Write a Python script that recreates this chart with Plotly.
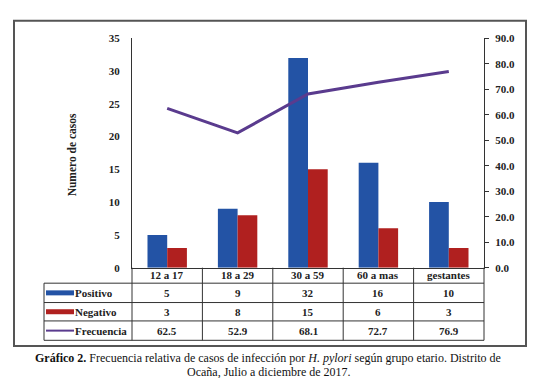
import plotly.graph_objects as go

categories = ["12 a 17", "18 a 29", "30 a 59", "60 a mas", "gestantes"]
positivo = [5, 9, 32, 16, 10]
negativo = [3, 8, 15, 6, 3]
frecuencia = [62.5, 52.9, 68.1, 72.7, 76.9]
left_ticks = [0, 5, 10, 15, 20, 25, 30, 35]
right_ticks = [0, 10, 20, 30, 40, 50, 60, 70, 80, 90]

W, H = 540, 378
def X(px): return px / W
def Y(py): return 1 - py / H

BLUE = "#2353a5"
RED = "#b0201f"
PURPLE = "#5a3b8e"
SERIF = "Liberation Serif"

x_left, x_right = 124, 476
y_top, y_bot = 25, 262

fig = go.Figure()
fig.add_trace(go.Bar(x=categories, y=positivo, name="Positivo", marker_color=BLUE, marker_line_width=0))
fig.add_trace(go.Bar(x=categories, y=negativo, name="Negativo", marker_color=RED, marker_line_width=0))
fig.add_trace(go.Scatter(x=categories, y=frecuencia, name="Frecuencia", mode="lines",
                         line=dict(color=PURPLE, width=3), yaxis="y2"))

tickfont = dict(family=SERIF, size=11, color="#222", weight="bold")
fig.update_layout(
    width=W, height=H, margin=dict(l=0, r=0, t=0, b=0),
    paper_bgcolor="white", plot_bgcolor="white",
    showlegend=False, barmode="group", bargap=0.44, bargroupgap=0,
    xaxis=dict(domain=[X(x_left), X(x_right)], showticklabels=False, showline=True,
               linecolor="#333", linewidth=1, ticks="", showgrid=False, zeroline=False,
               range=[-0.5, 4.5]),
    yaxis=dict(domain=[Y(y_bot), Y(y_top)], range=[0, 35], tickvals=left_ticks,
               showline=True, linecolor="#333", linewidth=1, ticks="", showgrid=False,
               zeroline=False, tickfont=tickfont, ticklabelstandoff=9),
    yaxis2=dict(overlaying="y", side="right", range=[0, 90], tickvals=right_ticks,
                tickformat=".1f", showline=True, linecolor="#333", linewidth=1,
                ticks="outside", ticklen=4, tickcolor="#333", showgrid=False,
                zeroline=False, tickfont=tickfont, ticklabelstandoff=4),
)

shapes = []
# outer frame
shapes.append(dict(type="rect", xref="paper", yref="paper", x0=X(6), x1=X(518), y0=Y(343), y1=Y(7),
                   line=dict(color="#555", width=2)))
line_style = dict(color="#333", width=1)
# table horizontal lines
for yy in [278, 298, 317, 337]:
    shapes.append(dict(type="line", xref="paper", yref="paper", x0=X(36), x1=X(x_right), y0=Y(yy), y1=Y(yy), line=line_style))
# table vertical lines
ncat = len(categories)
colw = (x_right - x_left) / ncat
for i in range(ncat + 1):
    xx = x_left + i * colw
    shapes.append(dict(type="line", xref="paper", yref="paper", x0=X(xx), x1=X(xx), y0=Y(y_bot), y1=Y(337), line=line_style))
shapes.append(dict(type="line", xref="paper", yref="paper", x0=X(36), x1=X(36), y0=Y(278), y1=Y(337), line=line_style))

annotations = []
row_centers = [288, 307.5, 327]
series = [("Positivo", positivo, BLUE, 5, "{:d}"), ("Negativo", negativo, RED, 5, "{:d}"),
          ("Frecuencia", frecuencia, PURPLE, 2, "{:.1f}")]
cell_font = dict(family=SERIF, size=11, color="#222", weight="bold")
for cat in categories:
    annotations.append(dict(x=cat, xref="x", y=Y(270), yref="paper", text=cat, showarrow=False,
                            font=cell_font, xanchor="center", yanchor="middle"))
for (name, vals, col, lw, fmt), yc in zip(series, row_centers):
    shapes.append(dict(type="line", xref="paper", yref="paper", x0=X(38), x1=X(66), y0=Y(yc), y1=Y(yc),
                       line=dict(color=col, width=lw)))
    annotations.append(dict(x=X(65), xref="paper", y=Y(yc), yref="paper", text=name, showarrow=False,
                            font=cell_font, xanchor="left", yanchor="middle"))
    for cat, v in zip(categories, vals):
        annotations.append(dict(x=cat, xref="x", y=Y(yc), yref="paper", text=fmt.format(v), showarrow=False,
                                font=cell_font, xanchor="center", yanchor="middle"))

# y-axis title
annotations.append(dict(x=X(64), xref="paper", y=Y(146), yref="paper", text="Numero de casos", textangle=-90,
                        showarrow=False, font=dict(family=SERIF, size=11.5, color="#222", weight="bold"),
                        xanchor="center", yanchor="middle"))
# caption
cap_font = dict(family=SERIF, size=12, color="#111")
annotations.append(dict(x=X(260), xref="paper", y=Y(355), yref="paper",
                        text="<b>Gráfico 2.</b> Frecuencia relativa de casos de infección por <i>H. pylori</i> según grupo etario. Distrito de",
                        showarrow=False, font=cap_font, xanchor="center", yanchor="middle"))
annotations.append(dict(x=X(261), xref="paper", y=Y(370), yref="paper",
                        text="Ocaña, Julio a diciembre de 2017.",
                        showarrow=False, font=cap_font, xanchor="center", yanchor="middle"))

fig.update_layout(shapes=shapes, annotations=annotations)
fig.write_html("out.html")
